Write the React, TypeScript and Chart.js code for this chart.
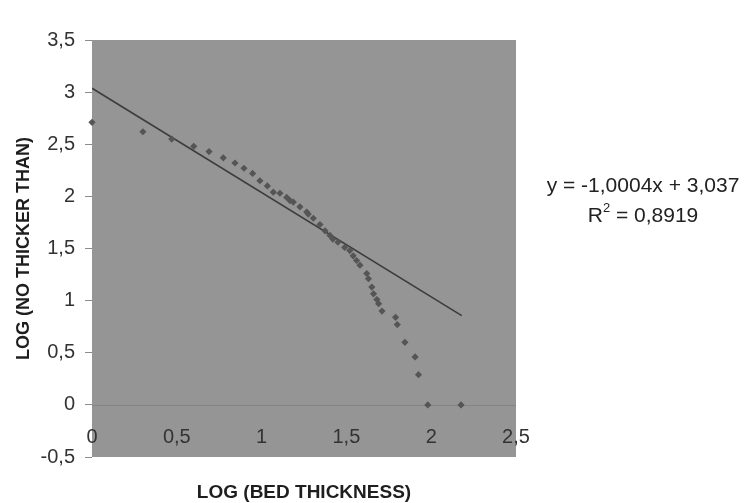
import React, { useEffect, useRef } from "react";
import { Chart, registerables } from "chart.js";

Chart.register(...registerables);

// Observed points: log(bed thickness) vs log(number no thicker than)
const logThickness = [
  0, 0.3, 0.47, 0.6, 0.69, 0.774, 0.843, 0.896, 0.947, 0.99, 1.034, 1.069,
  1.108, 1.148, 1.167, 1.187, 1.226, 1.266, 1.275, 1.305, 1.344, 1.374, 1.403,
  1.42, 1.45, 1.49, 1.52, 1.54, 1.56, 1.58, 1.62, 1.63, 1.65, 1.66, 1.68, 1.69,
  1.71, 1.79, 1.8, 1.845, 1.905, 1.925, 1.98, 2.176,
];
const logNoThicker = [
  2.71, 2.62, 2.55, 2.48, 2.43, 2.37, 2.32, 2.27, 2.22, 2.15, 2.1, 2.04, 2.03,
  1.99, 1.96, 1.945, 1.9, 1.85, 1.83, 1.79, 1.73, 1.67, 1.625, 1.59, 1.56, 1.51,
  1.48, 1.43, 1.385, 1.34, 1.26, 1.21, 1.13, 1.065, 1.01, 0.97, 0.9, 0.84, 0.77,
  0.6, 0.46, 0.29, 0, 0,
];
// Linear trendline y = -1,0004x + 3,037
const trendX = [0, 2.18];
const trendY = [3.037, 0.856];
const xTickValues = [0, 0.5, 1, 1.5, 2, 2.5];
const equationText = "y = -1,0004x + 3,037";
const r2Value = "0,8919";

const FONT = "'Liberation Sans', Arial, sans-serif";
const fmt = (v: number) => String(Math.round(v * 10) / 10).replace(".", ",");

export default function App() {
  const ref = useRef<HTMLCanvasElement | null>(null);
  useEffect(() => {
    if (!ref.current) return;
    const decor = {
      id: "decor",
      beforeDatasetsDraw(chart: any) {
        const { ctx, chartArea: a, scales } = chart;
        ctx.save();
        ctx.fillStyle = "#959595";
        ctx.fillRect(a.left, a.top, a.right - a.left, a.bottom - a.top);
        const y0 = scales.y.getPixelForValue(0);
        ctx.strokeStyle = "#848484";
        ctx.lineWidth = 1;
        ctx.beginPath();
        ctx.moveTo(a.left, Math.round(y0) + 0.5);
        ctx.lineTo(a.right, Math.round(y0) + 0.5);
        ctx.stroke();
        ctx.restore();
      },
      afterDatasetsDraw(chart: any) {
        const { ctx, chartArea: a, scales } = chart;
        ctx.save();
        const y0 = scales.y.getPixelForValue(0);
        ctx.font = `20px ${FONT}`;
        ctx.fillStyle = "#333";
        ctx.textAlign = "center";
        ctx.textBaseline = "middle";
        xTickValues.forEach((v) => {
          ctx.fillText(fmt(v), scales.x.getPixelForValue(v), y0 + 33);
        });
        // trendline equation
        ctx.fillStyle = "#222";
        ctx.font = `21px ${FONT}`;
        const cx = a.right + 127;
        ctx.fillText(equationText, cx, 186);
        const rest = " = " + r2Value;
        const wR = ctx.measureText("R").width;
        const wRest = ctx.measureText(rest).width;
        ctx.font = `13px ${FONT}`;
        const w2 = ctx.measureText("2").width;
        const total = wR + w2 + wRest;
        let x = cx - total / 2;
        ctx.textAlign = "left";
        ctx.font = `21px ${FONT}`;
        ctx.fillText("R", x, 216);
        x += wR;
        ctx.font = `13px ${FONT}`;
        ctx.fillText("2", x, 208);
        x += w2;
        ctx.font = `21px ${FONT}`;
        ctx.fillText(rest, x, 216);
        ctx.restore();
      },
    };
    const chart = new Chart(ref.current, {
      type: "scatter",
      data: {
        datasets: [
          {
            type: "line",
            data: trendX.map((x, i) => ({ x, y: trendY[i] })),
            borderColor: "#3c3c3c",
            borderWidth: 1.6,
            pointRadius: 0,
            fill: false,
            order: 2,
          } as any,
          {
            data: logThickness.map((x, i) => ({ x, y: logNoThicker[i] })),
            pointStyle: "rectRot",
            pointRadius: 3.6,
            backgroundColor: "#555555",
            borderColor: "#555555",
            borderWidth: 0,
            clip: false,
            order: 1,
          } as any,
        ],
      },
      options: {
        animation: false,
        responsive: false,
        maintainAspectRatio: false,
        layout: { padding: { top: 40, right: 228, left: 0, bottom: 0 } },
        plugins: {
          legend: { display: false },
          tooltip: { enabled: false },
        },
        scales: {
          x: {
            type: "linear",
            min: 0,
            max: 2.5,
            afterFit: (s: any) => {
              s.height = 46;
            },
            ticks: { display: false },
            grid: { display: false },
            border: { display: false },
            title: {
              display: true,
              text: "LOG (BED THICKNESS)",
              color: "#1e1e1e",
              font: { family: FONT, size: 19, weight: "bold" },
              padding: { top: 0, bottom: -1 },
            },
          },
          y: {
            type: "linear",
            min: -0.5,
            max: 3.5,
            afterFit: (s: any) => {
              s.width = 92;
            },
            ticks: {
              stepSize: 0.5,
              padding: 10,
              color: "#333",
              font: { family: FONT, size: 20 },
              callback: (v: any) => fmt(Number(v)),
            },
            grid: {
              drawOnChartArea: false,
              drawTicks: true,
              tickLength: 7,
              color: "#8c8c8c",
            },
            border: { display: false },
            title: {
              display: true,
              text: "LOG (NO THICKER THAN)",
              color: "#1e1e1e",
              font: { family: FONT, size: 18, weight: "bold" },
              padding: { top: 13, bottom: 0 },
            },
          },
        },
      },
      plugins: [decor],
    });
    return () => chart.destroy();
  }, []);
  return (
    <div style={{ position: "absolute", left: 0, top: 0, width: 744, height: 503, background: "#fff" }}>
      <canvas ref={ref} width={744} height={503} style={{ width: 744, height: 503 }} />
    </div>
  );
}
